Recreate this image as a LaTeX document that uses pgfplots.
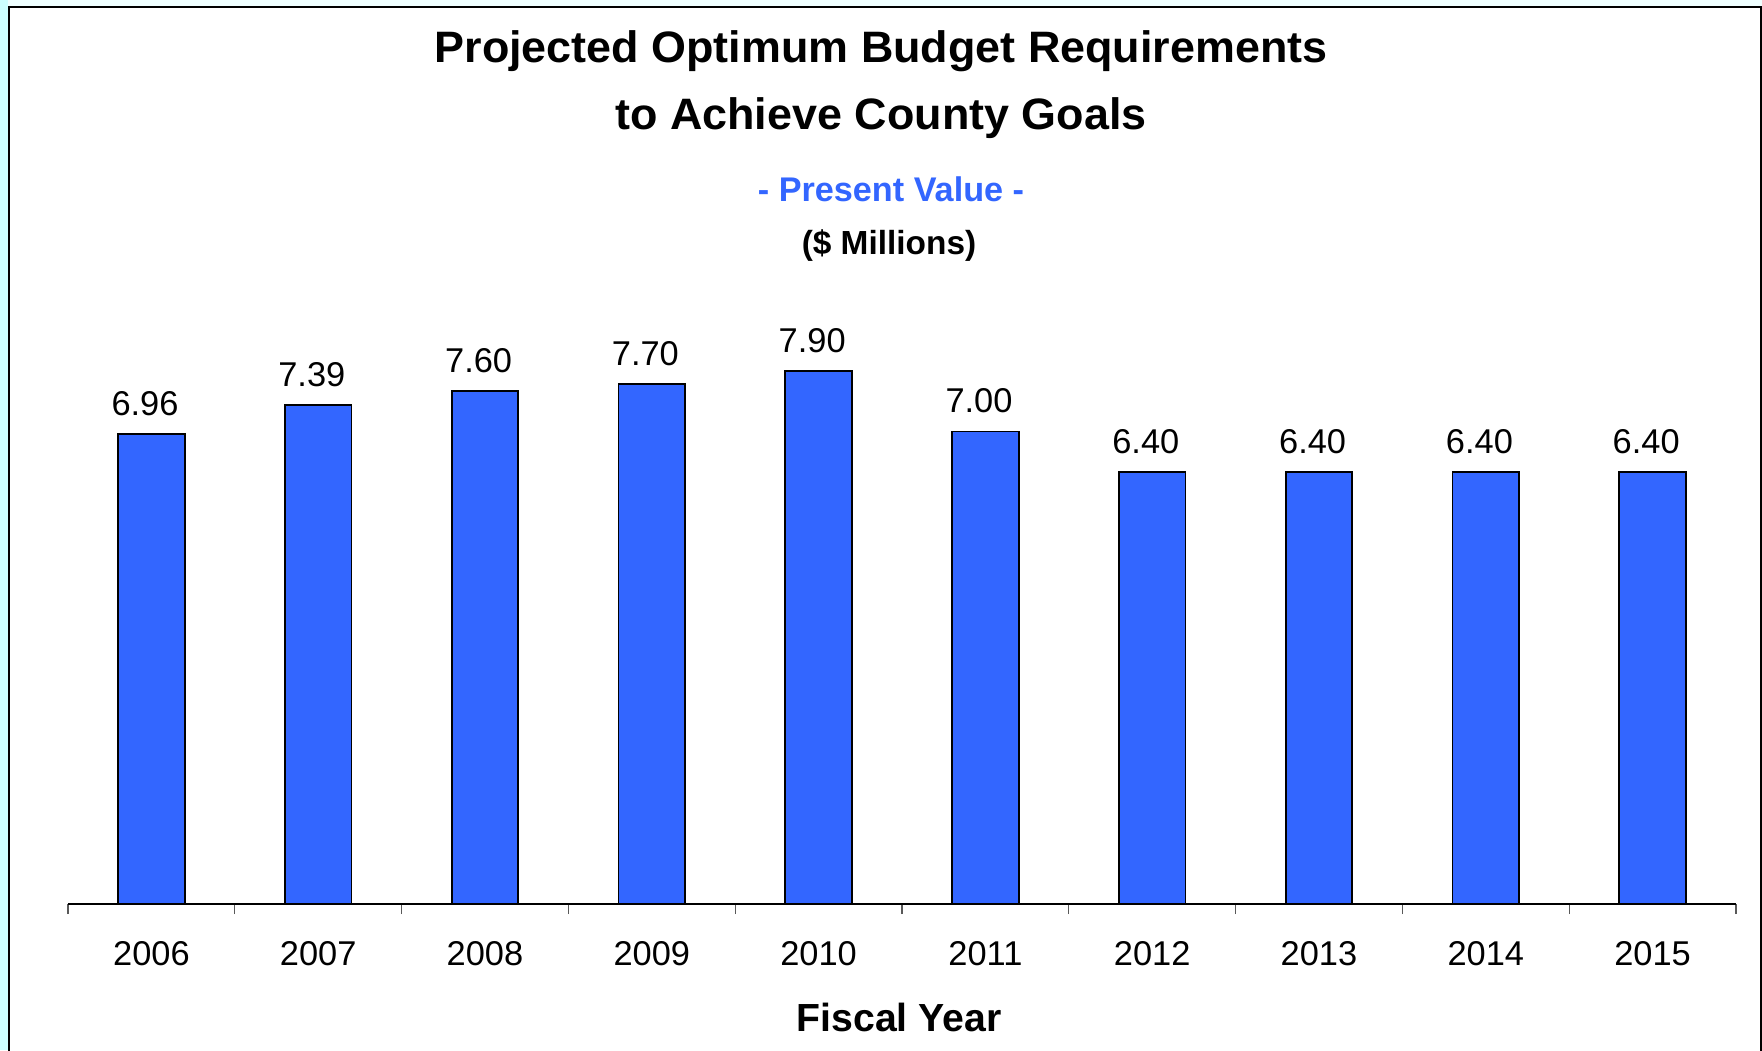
\documentclass[border=0pt]{standalone}
\usepackage{graphicx}
\usepackage{pgfplots}
\pgfplotsset{compat=1.18}
\usepackage{fontspec}
\setmainfont{Liberation Sans}
\definecolor{barblue}{HTML}{3366FF}
\definecolor{stripcyan}{HTML}{CCFFFF}
\definecolor{topcyan}{HTML}{EFFFFF}
\begin{document}
\begin{tikzpicture}
\useasboundingbox (-34pt,-73pt) rectangle (847pt,452pt);
\clip (-34pt,-73pt) rectangle (847pt,452pt);
\fill[topcyan] (-34pt,-73pt) rectangle (847pt,452pt);
\fill[stripcyan] (-34pt,-73pt) rectangle (-30pt,452pt);
\filldraw[fill=white,draw=black,line width=1pt] (-29.5pt,-90pt) rectangle (846.5pt,448.5pt);
\begin{axis}[
  at={(0pt,0pt)}, anchor=south west,
  scale only axis,
  width=834pt, height=303.75pt,
  xmin=-0.5, xmax=9.5, ymin=0, ymax=9,
  enlarge x limits=false,
  axis x line*=bottom,
  hide y axis,
  axis line style={black, line width=0.7pt},
  xtick={-0.5,0.5,1.5,2.5,3.5,4.5,5.5,6.5,7.5,8.5,9.5},
  xticklabels={},
  tick align=outside,
  major tick length=5pt,
  xtick style={draw=gray!70!black, line width=0.6pt},
  extra x ticks={0,1,2,3,4,5,6,7,8,9},
  extra x tick labels={2006,2007,2008,2009,2010,2011,2012,2013,2014,2015},
  extra x tick style={major tick length=0pt, xtick style={draw=none}},
  xticklabel style={font=\fontsize{17.2}{20}\selectfont, anchor=base, yshift=-30.5pt},
  /pgf/number format/assume math mode=true,
  ybar, bar width=33.25pt,
  nodes near coords,
  nodes near coords align={vertical},
  point meta=explicit symbolic,
  every node near coord/.append style={font=\fontsize{17.2}{20}\selectfont, anchor=base, yshift=9.3pt, xshift=-3.2pt, inner sep=0pt},
  clip=false,
]
\addplot[fill=barblue, draw=black, line width=0.9pt] coordinates {
  (0,6.96) [6.96]
  (1,7.39) [7.39]
  (2,7.60) [7.60]
  (3,7.70) [7.70]
  (4,7.90) [7.90]
  (5,7.00) [7.00]
  (6,6.40) [6.40]
  (7,6.40) [6.40]
  (8,6.40) [6.40]
  (9,6.40) [6.40]
};
\end{axis}
\node[anchor=base, font=\fontsize{22}{26}\selectfont\bfseries] at (406.5pt,420.8pt) {\scalebox{1.02}[1]{Projected Optimum Budget Requirements}};
\node[anchor=base, font=\fontsize{22}{26}\selectfont\bfseries] at (406.5pt,387pt) {\scalebox{1.02}[1]{to Achieve County Goals}};
\node[anchor=base, font=\fontsize{17.1}{20}\selectfont\bfseries, text=barblue] at (411.5pt,351pt) {- Present Value -};
\node[anchor=base, font=\fontsize{16.7}{20}\selectfont\bfseries] at (410.5pt,324.75pt) {(\$ Millions)};
\node[anchor=base, font=\fontsize{19.6}{23}\selectfont\bfseries] at (415.5pt,-63.75pt) {Fiscal Year};
\end{tikzpicture}
\end{document}
